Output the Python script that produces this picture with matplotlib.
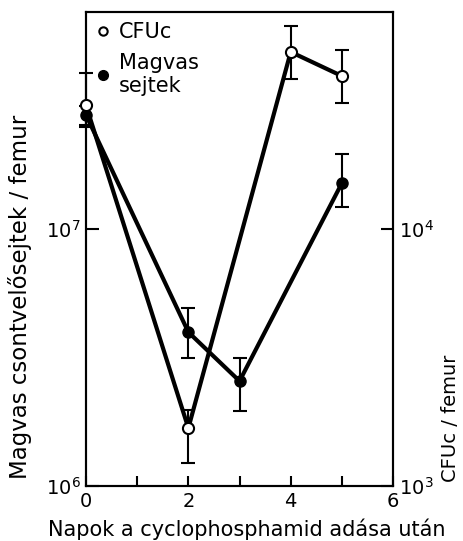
import matplotlib.pyplot as plt
from matplotlib.lines import Line2D

# days after cyclophosphamide
days_cfu = [0, 2, 4, 5]
cfu = [3.03e4, 1.68e3, 4.89e4, 3.94e4]          # CFUc / femur (right axis)
cfu_lo = [2.5e4, 1.23e3, 3.84e4, 3.09e4]
cfu_hi = [4.04e4, 1.98e3, 6.17e4, 4.97e4]

days_mag = [0, 2, 3, 5]
mag = [2.78e7, 3.97e6, 2.56e6, 1.51e7]          # nucleated cells / femur (left axis)
mag_lo = [2.55e7, 3.15e6, 1.96e6, 1.22e7]
mag_hi = [3.0e7, 4.93e6, 3.15e6, 1.96e7]

FS = 14
plt.rcParams['font.family'] = 'DejaVu Sans'

fig = plt.figure(figsize=(4.63, 5.41), dpi=100)
ax = fig.add_axes([0.1857, 0.1017, 0.849 - 0.1857, 0.978 - 0.1017])
ax2 = ax.twinx()

ax.set_yscale('log')
ax.set_ylim(1e6, 7e7)
ax2.set_yscale('log')
ax2.set_ylim(1e3, 7e4)
ax.set_xlim(0, 6)

err_m = [[m - l for m, l in zip(mag, mag_lo)], [h - m for m, h in zip(mag, mag_hi)]]
ax.errorbar(days_mag, mag, yerr=err_m, color='black', lw=3, elinewidth=1.5,
            capsize=5, capthick=1.5, marker='o', ms=8, mfc='black', mec='black',
            clip_on=False, zorder=3)

err_c = [[m - l for m, l in zip(cfu, cfu_lo)], [h - m for m, h in zip(cfu, cfu_hi)]]
ax2.errorbar(days_cfu, cfu, yerr=err_c, color='black', lw=3, elinewidth=1.5,
             capsize=5, capthick=1.5, marker='o', ms=8, mfc='white', mec='black',
             mew=1.5, clip_on=False, zorder=3)

ax.set_xticks([0, 1, 2, 3, 4, 5, 6])
ax.set_xticklabels(['0', '', '2', '', '4', '', '6'], fontsize=FS)
ax.set_yticks([1e6, 1e7])
ax.set_yticklabels(['$10^6$', '$10^7$'], fontsize=FS)
ax.yaxis.set_minor_locator(plt.NullLocator())
ax2.set_yticks([1e3, 1e4])
ax2.set_yticklabels(['$10^3$', '$10^4$'], fontsize=FS)
ax2.yaxis.set_minor_locator(plt.NullLocator())

ax.tick_params(axis='y', direction='in', length=9, width=1.5, pad=4)
ax.tick_params(axis='x', direction='in', length=7, width=1.5, pad=4)
ax2.tick_params(axis='y', direction='in', length=9, width=1.5, pad=4)
for a in (ax, ax2):
    for s in a.spines.values():
        s.set_linewidth(1.5)

handles = [Line2D([], [], ls='none', marker='o', ms=6, mfc='white', mec='black', mew=1.5),
           Line2D([], [], ls='none', marker='o', ms=7, mfc='black', mec='black')]
ax2.legend(handles, ['CFUc', 'Magvas\nsejtek'], loc='upper left', frameon=False,
           fontsize=15, handlelength=0.6, handletextpad=0.5, labelspacing=0.5,
           borderaxespad=0.2, borderpad=0.3)

fig.text(0.532, 1 - 529 / 541, 'Napok a cyclophosphamid adása után', fontsize=15,
         ha='center', va='center')
fig.text(20 / 463, 1 - 479 / 541, 'Magvas csontvelősejtek / femur', fontsize=16.5,
         rotation=90, ha='center', va='bottom')
fig.text(450 / 463, 1 - 482 / 541, 'CFUc / femur', fontsize=FS,
         rotation=90, ha='center', va='bottom')

fig.savefig('out.png', dpi=100)
